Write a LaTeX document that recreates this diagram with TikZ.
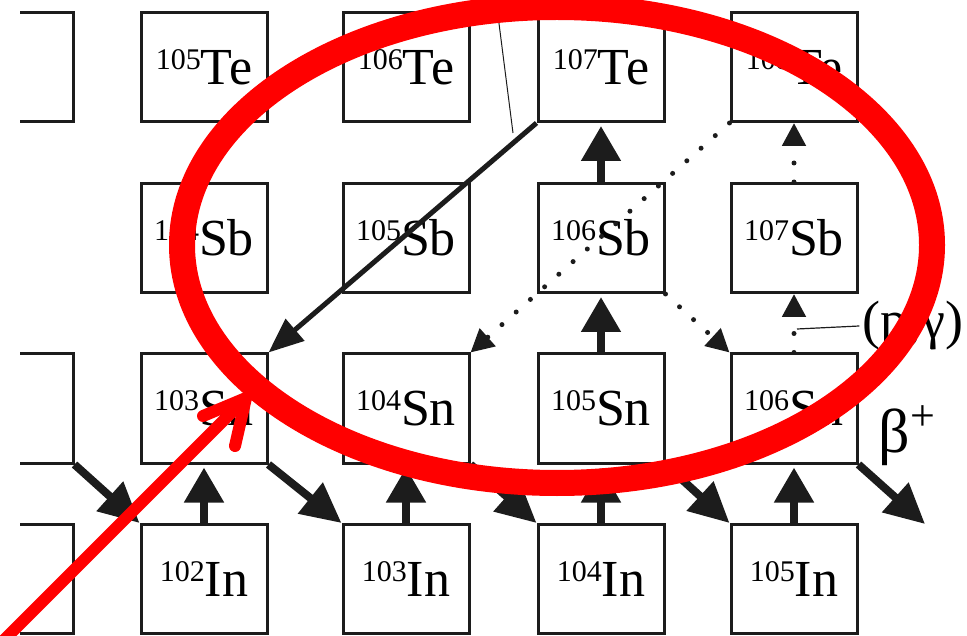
\documentclass[tikz,border=0pt]{standalone}
\usepackage{fontspec}
\setmainfont{Liberation Serif}
\usepackage{tikz}
\usetikzlibrary{arrows.meta,positioning,calc}
\definecolor{markred}{RGB}{255,0,0}
\definecolor{nucdark}{RGB}{28,28,28}
\newcommand{\nuc}[2]{\raisebox{15pt}{\fontsize{30}{30}\selectfont #1}#2}

\tikzset{
  nucbox/.style={draw=nucdark, line width=3pt, minimum width=126pt, minimum height=109pt, inner sep=0pt, font=\fontsize{52}{56}\selectfont},
  capture/.style={nucdark, line width=8pt, -{Triangle[length=35pt,width=38pt]}, shorten >=3pt},
  decay/.style={nucdark, line width=8pt, -{Triangle[length=40pt,width=38pt]}},
  weakflow/.style={nucdark, line width=5pt, line cap=round, dash pattern=on 0pt off 19pt, -{Triangle[length=23pt,width=23pt]}},
}

\begin{document}
\begin{tikzpicture}[x=1pt,y=-1pt]
\useasboundingbox (0,0) rectangle (967,636);

\begin{scope}
\clip (20,-20) rectangle (967,660);
% nuclide boxes, one row per element
\node[nucbox] (te104) at (10,67) {};
\foreach \n/\x in {105/204, 106/406, 107/601, 108/794}
  \node[nucbox] (te\n) at (\x,67) {\nuc{\n}{Te}};
\foreach \n/\x in {104/204, 105/406, 106/601, 107/794}
  \node[nucbox] (sb\n) at (\x,238) {\nuc{\n}{Sb}};
\node[nucbox] (sn102) at (10,408.5) {};
\foreach \n/\x in {103/204, 104/406, 105/601, 106/794}
  \node[nucbox] (sn\n) at (\x,408.5) {\nuc{\n}{Sn}};
\node[nucbox] (in101) at (10,579) {};
\foreach \n/\x in {102/204, 103/406, 104/601, 105/794}
  \node[nucbox] (in\n) at (\x,579) {\nuc{\n}{In}};

% (p,gamma) captures
\draw[capture] (in102) -- (sn103);
\draw[capture] (in103) -- (sn104);
\draw[capture] (in104) -- (sn105);
\draw[capture] (in105) -- (sn106);
\draw[capture] (sn105) -- (sb106);
\draw[capture] (sb106) -- (te107);
\draw[weakflow] (sn106) -- (sb107);
\draw[weakflow] (sb107) -- (te108);

% beta+ decays
\draw[decay] (sn102.south east) -- (in102.north west);
\draw[decay] (sn103.south east) -- (in103.north west);
\draw[decay] (sn104.south east) -- (in104.north west);
\draw[decay] (sn105.south east) -- (in105.north west);
\coordinate (betaend) at (925,524);
\draw[decay] (sn106.south east) -- (betaend);

% alpha decay and weak branches
\coordinate (leadtop) at (496,0);
\coordinate (leadfoot) at (513,133);
\draw[nucdark, line width=1pt] (leadtop) -- (leadfoot);
\draw[nucdark, line width=5pt, -{Triangle[length=35pt,width=28pt]}] (te107.south west) -- (sn103.north east);
\draw[weakflow] (te108.south west) -- (sn104.north east);
\draw[weakflow] (sb106.south east) -- (sn106.north west);

% labels
\node[font=\fontsize{54}{58}\selectfont] (pglabel) at (913,326) {(p,γ)};
\coordinate (pgfoot) at (797,329);
\draw[nucdark, line width=1.2pt] (pgfoot) -- (pglabel.west);
\node[font=\fontsize{62}{66}\selectfont] (betalabel) at (907,436) {β\raisebox{22pt}{\fontsize{44}{44}\selectfont +}};
\end{scope}

% red markup
\draw[markred, line width=26pt] (557,245) ellipse [x radius=375, y radius=238];
\draw[markred, line width=12pt, line cap=round] (4,640) -- (246,398);
\draw[markred, line width=12pt, line cap=round, line join=round] (203,416) -- (246,398) -- (235,446);
\end{tikzpicture}
\end{document}
